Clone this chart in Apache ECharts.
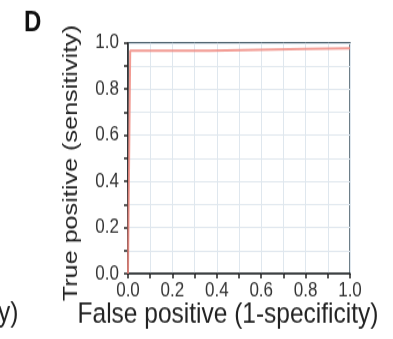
<!DOCTYPE html>
<html>
<head>
<meta charset="utf-8">
<script src="https://cdn.jsdelivr.net/npm/echarts@6/dist/echarts.min.js"></script>
<style>
  html, body { margin: 0; padding: 0; background: #fff; width: 393px; height: 339px; }
  /* the figure is drawn at a compressed height and stretched vertically */
  #chart { width: 393px; height: 282.5px; transform: scaleY(1.2); transform-origin: 0 0; }
</style>
</head>
<body>
<div id="chart"></div>
<script>
// ROC curve: false positive rate (x) vs true positive rate (y)
const fpr = [0, 0.01, 0.37, 0.375, 0.8, 1.0];
const tpr = [0, 0.966, 0.967, 0.972, 0.974, 0.977];
const xTicks = [0, 0.2, 0.4, 0.6, 0.8, 1.0];
const yTicks = [0, 0.2, 0.4, 0.6, 0.8, 1.0];
const panelLabel = 'D';
const xTitle = 'False positive (1-specificity)';
const yTitle = 'True positive (sensitivity)';

const font = '"Liberation Sans", Arial, Helvetica, sans-serif';
const gridColor = '#dfe7ee';

const chart = echarts.init(document.getElementById('chart'), null, { renderer: 'canvas' });

const fmt = v => v.toFixed(1);

chart.setOption({
  animation: false,
  backgroundColor: '#fff',
  grid: {
    left: 128, right: 43, top: 35.8, bottom: 55,
    outerBoundsMode: 'none',
    show: true, borderColor: '#3e5461', borderWidth: 1.5, backgroundColor: 'transparent'
  },
  xAxis: {
    type: 'value', min: xTicks[0], max: xTicks[xTicks.length - 1], interval: 0.2,
    name: xTitle, nameLocation: 'middle', nameGap: 21.5, nameMoveOverlap: false,
    nameTextStyle: { fontFamily: font, fontSize: 24.5, color: '#222', padding: [0, 22, 0, 0] },
    axisLine: { show: true, lineStyle: { color: '#222', width: 1.5 } },
    axisTick: { show: true, inside: false, length: 4, lineStyle: { color: '#222', width: 1.5 } },
    minorTick: { show: true, splitNumber: 2, length: 4, lineStyle: { color: '#222', width: 1.5 } },
    splitLine: { show: true, lineStyle: { color: gridColor, width: 1 } },
    minorSplitLine: { show: true, lineStyle: { color: gridColor, width: 1 } },
    axisLabel: { fontFamily: font, fontSize: 17, color: '#333', margin: 6, formatter: fmt }
  },
  yAxis: {
    type: 'value', min: yTicks[0], max: yTicks[yTicks.length - 1], interval: 0.2,
    name: yTitle, nameLocation: 'middle', nameGap: 46, nameMoveOverlap: false,
    nameTextStyle: { fontFamily: font, fontSize: 21, color: '#222', padding: [0, 8, 0, 0] },
    axisLine: { show: true, lineStyle: { color: '#222', width: 1.5 } },
    axisTick: { show: true, inside: false, length: 4, lineStyle: { color: '#222', width: 1.5 } },
    minorTick: { show: true, splitNumber: 2, length: 4, lineStyle: { color: '#222', width: 1.5 } },
    splitLine: { show: true, lineStyle: { color: gridColor, width: 1 } },
    minorSplitLine: { show: true, lineStyle: { color: gridColor, width: 1 } },
    axisLabel: { fontFamily: font, fontSize: 17, color: '#333', margin: 9, formatter: fmt }
  },
  graphic: [
    { type: 'text', left: 24, top: 7,
      style: { text: panelLabel, font: 'bold 24px ' + font, fill: '#111' } },
    { type: 'text', left: -2, top: 249,
      style: { text: 'y)', font: '24.5px ' + font, fill: '#222' } }
  ],
  series: [{
    type: 'line',
    data: fpr.map((x, i) => [x, tpr[i]]),
    showSymbol: false,
    lineStyle: { color: '#f08a80', width: 2, opacity: 0.85 },
    z: 3
  }]
});
</script>
</body>
</html>
